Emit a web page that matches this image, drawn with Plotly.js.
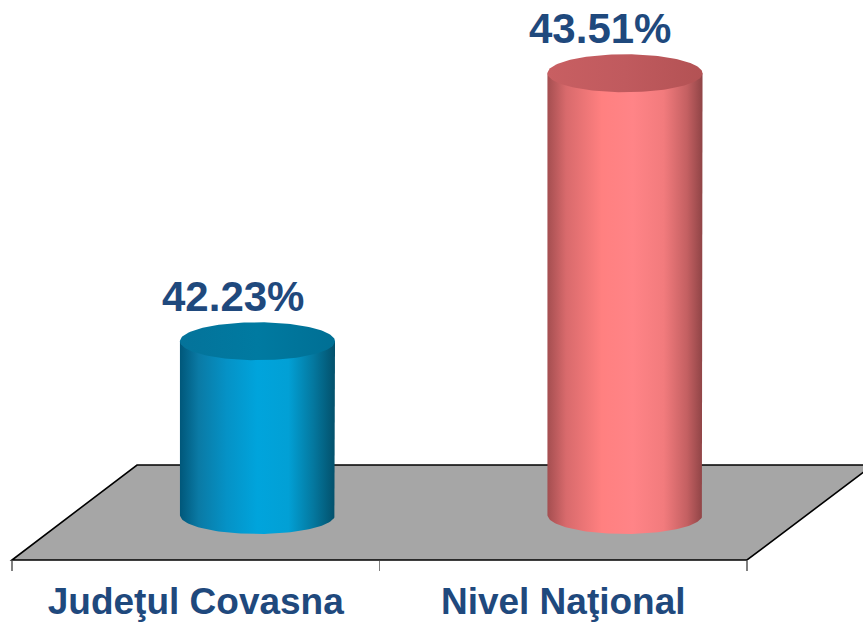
<!DOCTYPE html>
<html>
<head>
<meta charset="utf-8">
<script src="https://cdn.plot.ly/plotly-3.0.1.min.js"></script>
<style>html,body{margin:0;padding:0;background:#fff;}#chart{width:863px;height:623px;}</style>
</head>
<body>
<div id="chart"></div>
<script>
// ---- data ----
const categories = ['Judeţul Covasna', 'Nivel Naţional'];
const values = [42.23, 43.51];
const valueLabels = ['42.23%', '43.51%'];
const bodyScales = [
  [[0,'#00577a'],[0.12,'#0a7aa5'],[0.3,'#0592c6'],[0.5,'#00a4dc'],[0.7,'#02a0d5'],[0.86,'#04789f'],[1,'#03506b']],
  [[0,'#a44e50'],[0.12,'#d86a6c'],[0.35,'#ff8080'],[0.55,'#ff8487'],[0.75,'#f27b7d'],[0.9,'#c46062'],[1,'#8f4446']]
];
const topScales = [
  [[0,'#04739a'],[0.5,'#007aa1'],[1,'#006f94']],
  [[0,'#c85f62'],[0.5,'#c05a5e'],[1,'#b35254']]
];

// ---- geometry (layout constants) ----
const baseValue = 41.4;
const yRange = [41.185, 43.86];
const depthOffset = 0.168;   // bar centre shift (x units) due to depth
const halfW = 0.211;         // cylinder radius (x units)
const ryU = 0.0907;          // ellipse vertical radius (y units)
const N = 72;

const traces = [];
values.forEach((v, i) => {
  const cx = i + depthOffset;
  // body
  const bx = [cx - halfW, cx - halfW, cx + halfW, cx + halfW];
  const by = [baseValue, v, v, baseValue];
  for (let k = 0; k <= N; k++) {
    const t = Math.PI * k / N;
    bx.push(cx + halfW * Math.cos(t));
    by.push(baseValue - ryU * Math.sin(t));
  }
  traces.push({
    type: 'scatter', mode: 'lines', x: bx, y: by, fill: 'toself',
    fillgradient: {type: 'horizontal', colorscale: bodyScales[i]},
    line: {width: 0}, hoverinfo: 'skip', showlegend: false, xaxis: 'x', yaxis: 'y'
  });
  // top ellipse
  const tx = [], ty = [];
  for (let k = 0; k <= 2 * N; k++) {
    const t = Math.PI * k / N;
    tx.push(cx + halfW * Math.cos(t));
    ty.push(v + ryU * Math.sin(t));
  }
  traces.push({
    type: 'scatter', mode: 'lines', x: tx, y: ty, fill: 'toself',
    fillgradient: {type: 'horizontal', colorscale: topScales[i]},
    line: {width: 0}, hoverinfo: 'skip', showlegend: false, xaxis: 'x', yaxis: 'y'
  });
});
// category axis holder
traces.push({type: 'scatter', mode: 'markers', x: categories, y: [null, null],
  xaxis: 'x2', yaxis: 'y', showlegend: false, hoverinfo: 'skip', marker: {opacity: 0}});

const annotations = values.map((v, i) => ({
  x: i + depthOffset - 0.068, y: v + ryU, xref: 'x', yref: 'y',
  text: valueLabels[i], showarrow: false, yanchor: 'bottom', xanchor: 'center',
  font: {family: 'Liberation Sans, Arial, sans-serif', size: 42, color: '#1F497D', weight: 'bold'}
}));

const layout = {
  width: 863, height: 623,
  margin: {l: 12, r: 116, t: 0, b: 63},
  paper_bgcolor: '#ffffff', plot_bgcolor: 'rgba(0,0,0,0)',
  showlegend: false,
  xaxis: {range: [-0.5, 1.5], visible: false, fixedrange: true},
  yaxis: {range: yRange, visible: false, fixedrange: true},
  xaxis2: {
    type: 'category', overlaying: 'x', anchor: 'y', side: 'bottom',
    categoryorder: 'array', categoryarray: categories, range: [-0.5, 1.5],
    tickson: 'boundaries', ticks: 'outside', ticklen: 10, tickcolor: '#808080', tickwidth: 1.5,
    ticklabelstandoff: 16,
    showline: false, showgrid: false, zeroline: false,
    tickfont: {family: 'Liberation Sans, Arial, sans-serif', size: 37, color: '#1F497D', weight: 'bold'}
  },
  shapes: [{
    type: 'path', xref: 'paper', yref: 'paper', layer: 'below',
    path: 'M 0 0 L 1 0 L 1.1714 0.1696 L 0.1701 0.1696 Z',
    fillcolor: '#A6A6A6', line: {color: '#000000', width: 1.6}
  }],
  annotations: annotations
};

Plotly.newPlot('chart', traces, layout, {displayModeBar: false, staticPlot: true});
</script>
</body>
</html>
